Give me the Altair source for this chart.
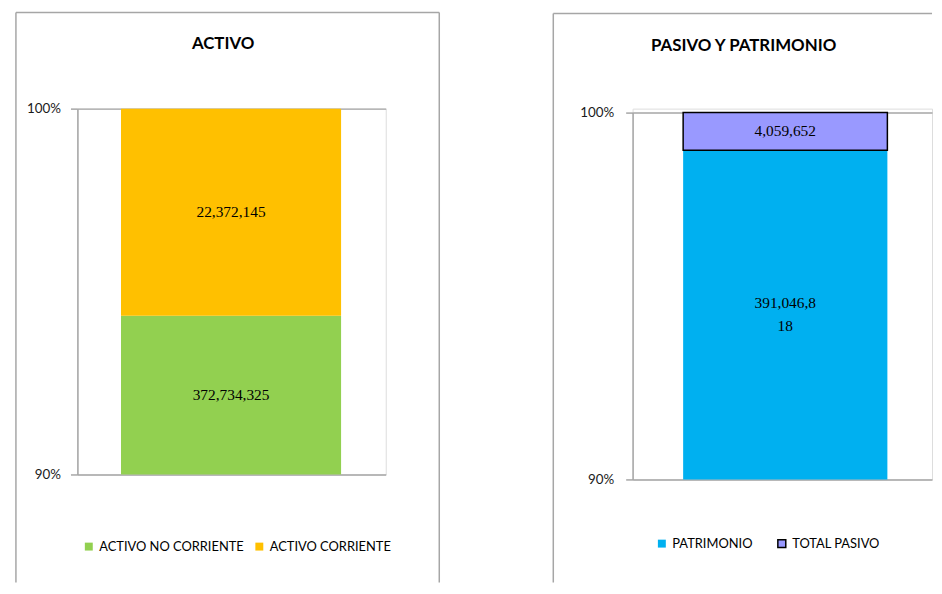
import altair as alt
import pandas as pd

# ---- data ----
activo_title = "ACTIVO"
activo_series = ["ACTIVO NO CORRIENTE", "ACTIVO CORRIENTE"]
activo_values = [372734325, 22372145]
activo_colors = ["#92D050", "#FFC000"]
activo_strokes = ["transparent", "transparent"]

pasivo_title = "PASIVO Y PATRIMONIO"
pasivo_series = ["PATRIMONIO", "TOTAL PASIVO"]
pasivo_values = [391046818, 4059652]
pasivo_colors = ["#00B0F0", "#9999FF"]
pasivo_strokes = ["transparent", "#000000"]

y_ticks = [0.9, 1.0]
y_min = 0.9

GRAY = "#A6A6A6"
SANS = "Lato"
SERIF = "Liberation Serif"


def build_table(series, values, cat, wrap):
    total = sum(values)
    rows = []
    cum = 0
    for s, v in zip(series, values):
        start = cum / total
        cum += v
        end = cum / total
        txt = f"{v:,}"
        if wrap and len(txt) > 9:
            txt = txt[:9] + "\n" + txt[9:]
        rows.append({"cat": cat, "serie": s, "value": v, "start": start, "end": end,
                     "mid": (max(start, y_min) + end) / 2, "label": txt,
                     "multi": "\n" in txt})
    return pd.DataFrame(rows)


def panel(title, series, values, colors, strokes, cat, wrap, width, height, yrange,
          pad_outer, align, title_xy, border, legend_xy, col_pad, label_pad):
    df = build_table(series, values, cat, wrap)
    base = alt.Chart(df)
    xs = alt.X("cat:N", axis=None,
               scale=alt.Scale(paddingInner=0, paddingOuter=pad_outer, align=align))
    ys = alt.Scale(domain=[0.9, 1.0], clamp=True, range=yrange, nice=False, zero=False)
    leg = alt.Legend(title=None, orient="none", legendX=legend_xy[0], legendY=legend_xy[1],
                     direction="horizontal", symbolType="square", symbolSize=64,
                     symbolStrokeWidth=1.5, labelFont=SANS, labelFontSize=13,
                     labelColor="#000000", labelOffset=4, columnPadding=col_pad, padding=0)
    bars = base.mark_bar(strokeWidth=1.5).encode(
        x=xs,
        y=alt.Y("start:Q", scale=ys, title=None,
                axis=alt.Axis(values=y_ticks, format=".0%", grid=True, gridColor=GRAY,
                              gridWidth=1.5, domainColor=GRAY, domainWidth=1.5,
                              tickColor=GRAY, tickWidth=1.5, tickSize=7,
                              labelFont=SANS, labelFontSize=13.5, labelColor="#1a1a1a",
                              labelPadding=label_pad)),
        y2="end:Q",
        color=alt.Color("serie:N", scale=alt.Scale(domain=series, range=colors), legend=leg),
        stroke=alt.Stroke("serie:N", scale=alt.Scale(domain=series, range=strokes), legend=leg),
    )
    text_style = dict(font=SERIF, fontSize=15.5, color="#000000", lineBreak="\n",
                      lineHeight=23, baseline="middle")
    labels1 = base.transform_filter("!datum.multi").mark_text(**text_style).encode(
        x=xs, y=alt.Y("mid:Q", scale=ys), text="label:N")
    labels2 = base.transform_filter("datum.multi").mark_text(dy=-11.5, **text_style).encode(
        x=xs, y=alt.Y("mid:Q", scale=ys), text="label:N")
    one = alt.Data(values=[{}])
    ttl = alt.Chart(one).mark_text(font=SANS, fontSize=17, fontWeight="bold",
                                   color="#000000", baseline="middle", align="center").encode(
        x=alt.value(title_xy[0]), y=alt.value(title_xy[1]), text=alt.value(title))
    lines = []
    bx1, bx2, by1, by2 = border
    lines.append(alt.Chart(one).mark_rule(color=GRAY, strokeWidth=1.5).encode(
        x=alt.value(bx1), y=alt.value(by1), y2=alt.value(by2)))
    if bx2 is not None:
        lines.append(alt.Chart(one).mark_rule(color=GRAY, strokeWidth=1.5).encode(
            x=alt.value(bx2), y=alt.value(by1), y2=alt.value(by2)))
        lines.append(alt.Chart(one).mark_rule(color=GRAY, strokeWidth=1.5).encode(
            x=alt.value(bx1), x2=alt.value(bx2), y=alt.value(by1)))
    else:
        lines.append(alt.Chart(one).mark_rule(color=GRAY, strokeWidth=1.5).encode(
            x=alt.value(bx1), x2=alt.value(width), y=alt.value(by1)))
    return alt.layer(*lines, ttl, bars, labels1, labels2).properties(
        width=width, height=height,
    ).resolve_scale(color="independent", stroke="independent")


left = panel(activo_title, activo_series, activo_values, activo_colors, activo_strokes,
             "A", False, 311, 369, [369, 0], 0.2005, 0.494, (147, -65),
             (-62, 365, -97, 478), (5, 435), 8, 10)
right = panel(pasivo_title, pasivo_series, pasivo_values, pasivo_colors, pasivo_strokes,
              "P", True, 302, 374, [374, 4], 0.233, 0.531, (112, -63),
              (-80, None, -96, 478), (23, 432), 22, 12)

chart = alt.hconcat(left, right, spacing=111).properties(
    padding={"left": 6, "top": 0, "right": 0, "bottom": 0}
).configure_view(stroke=None).configure(background="white")

chart.save("out.html", embed_options={"renderer": "svg", "actions": False})
